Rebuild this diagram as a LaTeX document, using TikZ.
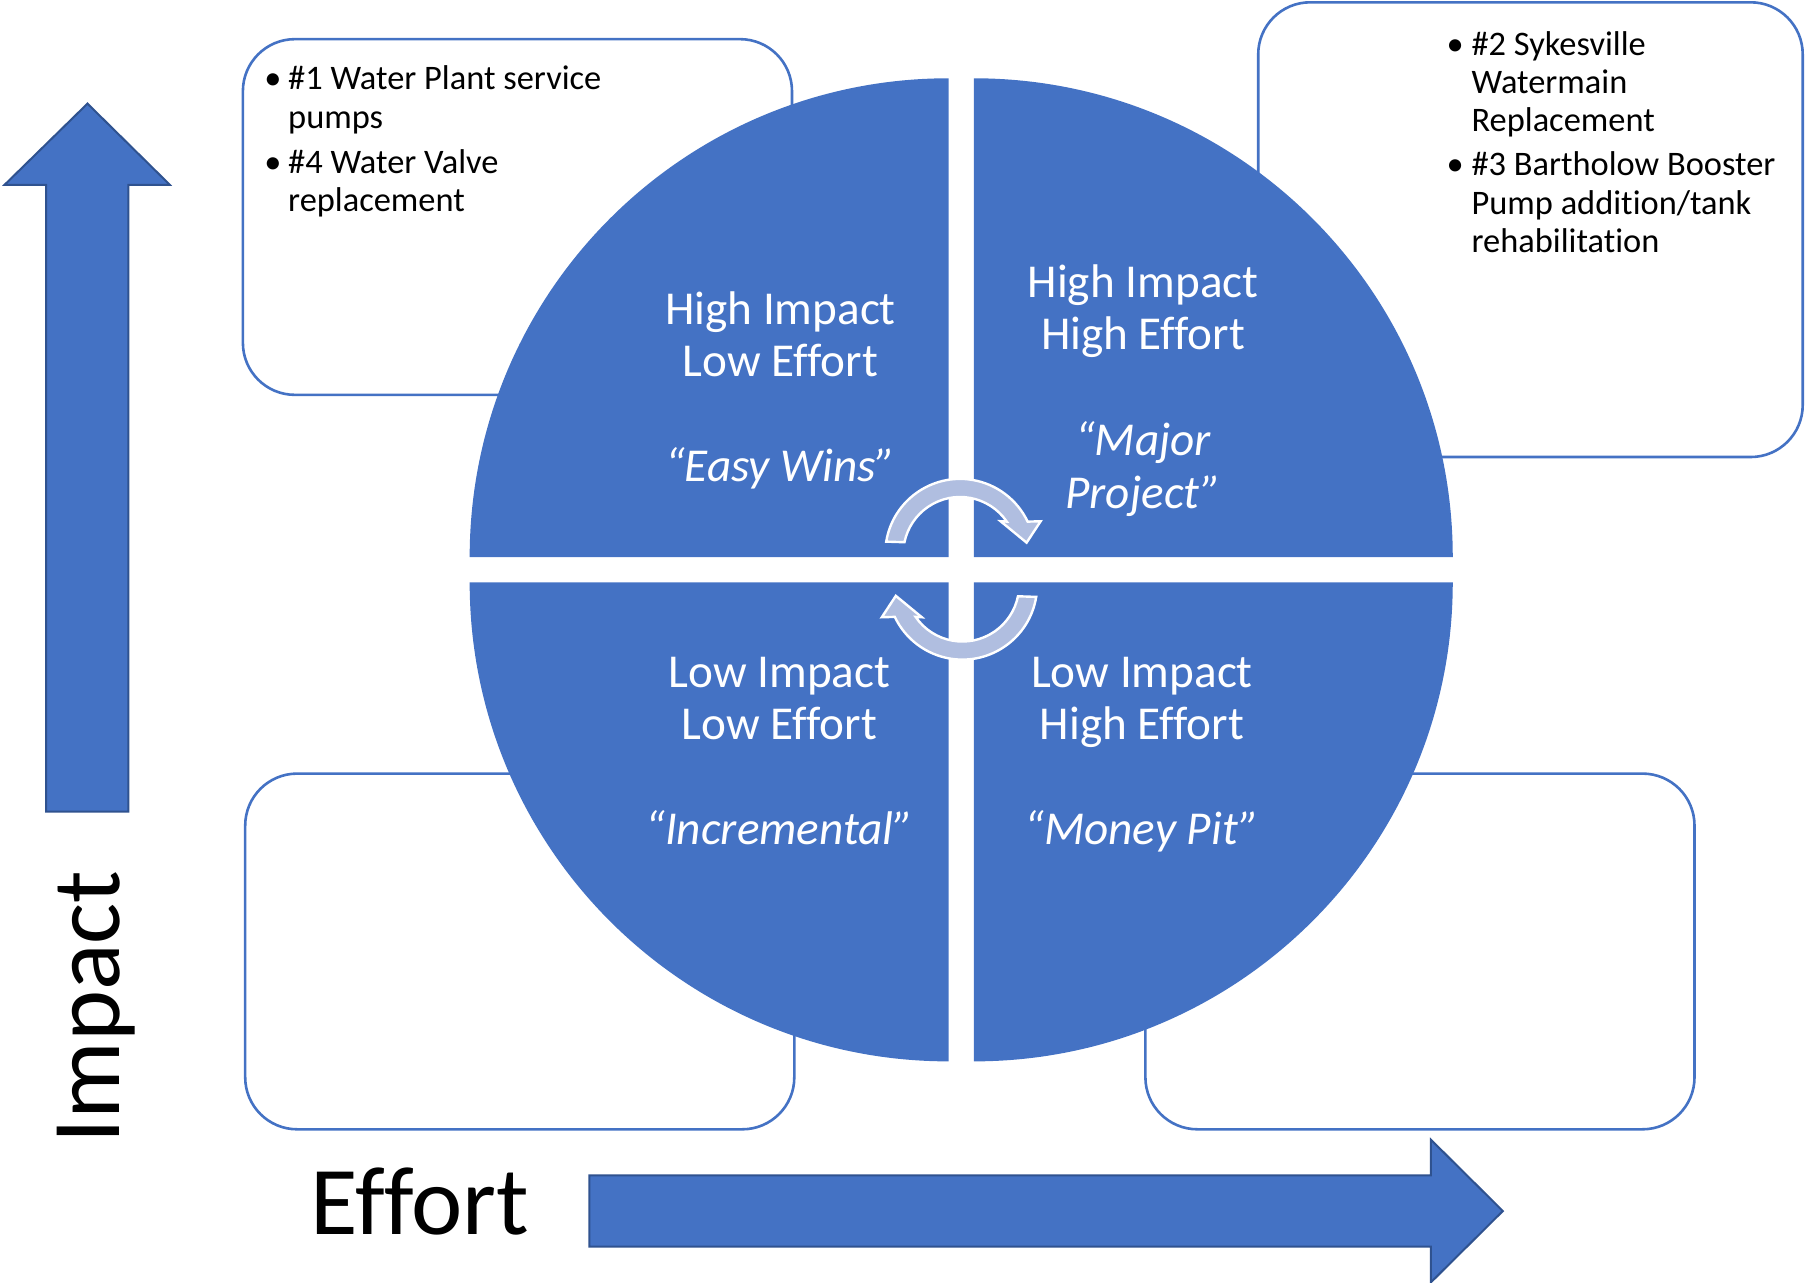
\documentclass[tikz,border=0pt]{standalone}
\usepackage{fontspec}
\setmainfont{Carlito}[Ligatures=CommonOff]
\definecolor{pblue}{RGB}{68,114,196}
\definecolor{pdark}{RGB}{47,82,143}
\definecolor{plight}{RGB}{176,190,224}
\begin{document}
\begin{tikzpicture}[x=0.575574pt, y=-0.575574pt,
  box/.style={draw=pblue, line width=1.3pt, rounded corners=26pt, fill=white},
  quad/.style={fill=pblue},
  qtext/.style={text=white, font=\fontsize{23.6}{26}\selectfont, anchor=base, inner sep=0pt},
  qital/.style={text=white, font=\fontsize{23.6}{26}\selectfont\itshape, anchor=base, inner sep=0pt},
  btext/.style={font=\fontsize{17.2}{19.6}\selectfont, anchor=base west, inner sep=0pt},
  bdot/.style={font=\fontsize{17.2}{19.6}\selectfont, anchor=base, inner sep=0pt},
  bigarrow/.style={fill=pblue, draw=pdark, line width=1pt},
  cyc/.style={fill=plight, draw=white, line width=1.2pt},
  axislabel/.style={font=\fontsize{48.6}{50}\selectfont, anchor=base, inner sep=0pt}
]
\useasboundingbox (0,0) rectangle (1568,1114);

% boxes
\draw[box] (211,34) rectangle (688,343);
\draw[box] (1093,2) rectangle (1566,397);
\draw[box] (213,672) rectangle (690,981);
\draw[box] (995,672) rectangle (1472,981);

% quadrants
\fill[quad] (824,484) -- (408,484) arc[start angle=180, end angle=270, radius=416] -- cycle;
\fill[quad] (846,484) -- (846,68) arc[start angle=270, end angle=360, radius=416] -- cycle;
\fill[quad] (824,506) -- (824,922) arc[start angle=90, end angle=180, radius=416] -- cycle;
\fill[quad] (846,506) -- (1262,506) arc[start angle=0, end angle=90, radius=416] -- cycle;

% cycle arrows
\path[cyc] (769.85,470.5) arc[start angle=189.3, end angle=334.6, radius=65]
  -- (904,452.8) -- (891.8,471.4) -- (869.2,452.8) -- (874.6,453.1)
  arc[start angle=325.5, end angle=191.7, radius=49.3] -- cycle;
\begin{scope}[rotate around={180:(835,494.5)}]
\path[cyc] (769.85,470.5) arc[start angle=189.3, end angle=334.6, radius=65]
  -- (904,452.8) -- (891.8,471.4) -- (869.2,452.8) -- (874.6,453.1)
  arc[start angle=325.5, end angle=191.7, radius=49.3] -- cycle;
\end{scope}

% big arrows
\draw[bigarrow] (40,705) -- (40,160.5) -- (4,160.5) -- (76,90) -- (147.5,160.5)
  -- (111.5,160.5) -- (111.5,705) -- cycle;
\draw[bigarrow] (512,1021) -- (1243,1021) -- (1243,990) -- (1305.5,1052)
  -- (1243,1114) -- (1243,1083) -- (512,1083) -- cycle;

% axis labels
\node[axislabel, rotate=90] (impact) at (104,875) {Impact};
\node[axislabel] (effort) at (365,1072) {Effort};

% quadrant texts
\node[qtext] (tl1) at (678,282) {High Impact};
\node[qtext] (tl2) at (678,327) {Low Effort};
\node[qital] (tl3) at (678,418) {“Easy Wins”};
\node[qtext] (tr1) at (993,258) {High Impact};
\node[qtext] (tr2) at (993,304) {High Effort};
\node[qital] (tr3) at (993,396) {“Major};
\node[qital] (tr4) at (993,442) {Project”};
\node[qtext] (bl1) at (677,597) {Low Impact};
\node[qtext] (bl2) at (677,642) {Low Effort};
\node[qital] (bl3) at (677,734) {“Incremental”};
\node[qtext] (br1) at (992,597) {Low Impact};
\node[qtext] (br2) at (992,642) {High Effort};
\node[qital] (br3) at (992,734) {“Money Pit”};

% bullet texts top-left
\node[bdot] (d1) at (237,77.5) {•};
\node[btext] (a1) at (250,77.5) {\#1 Water Plant service};
\node[btext] (a2) at (250,111.5) {pumps};
\node[bdot] (d4) at (237,150.5) {•};
\node[btext] (a3) at (250,150.5) {\#4 Water Valve};
\node[btext] (a4) at (250,183.5) {replacement};

% bullet texts top-right
\node[bdot] (d2) at (1264,48.5) {•};
\node[btext] (b1) at (1278,48.5) {\#2 Sykesville};
\node[btext] (b2) at (1278,81.5) {Watermain};
\node[btext] (b3) at (1278,114.5) {Replacement};
\node[bdot] (d3) at (1264,152.5) {•};
\node[btext] (b4) at (1278,152.5) {\#3 Bartholow Booster};
\node[btext] (b5) at (1278,186.5) {Pump addition/tank};
\node[btext] (b6) at (1278,219.5) {rehabilitation};
\end{tikzpicture}
\end{document}
